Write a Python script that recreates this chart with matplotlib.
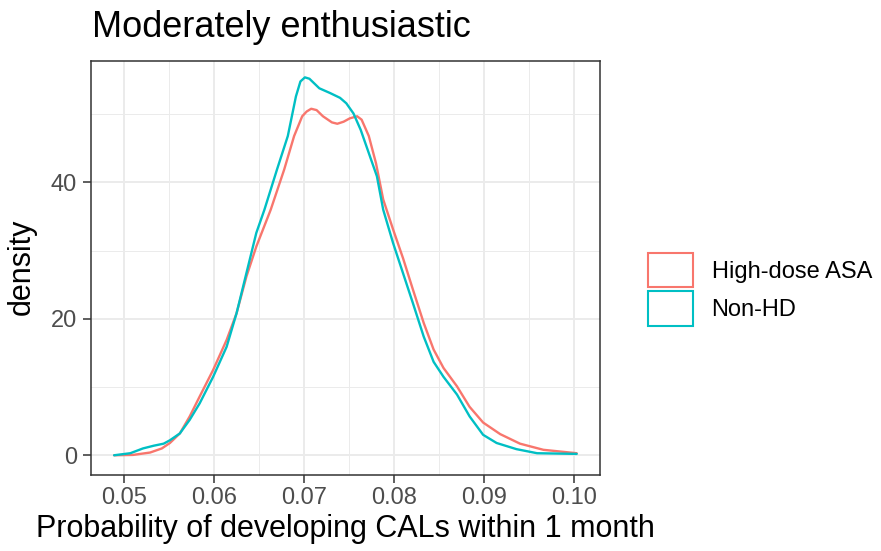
import matplotlib
matplotlib.use("Agg")
import matplotlib.pyplot as plt
from matplotlib.patches import Patch
from matplotlib.ticker import MultipleLocator

plt.rcParams["font.family"] = ["Liberation Sans", "DejaVu Sans"]

# density curves
hd_x = [0.0489, 0.0510, 0.0529, 0.0542, 0.0551, 0.0562, 0.0573, 0.0584, 0.0599, 0.0614,
        0.0625, 0.0636, 0.0647, 0.0663, 0.0678, 0.0689, 0.0698, 0.0703, 0.0708, 0.0714,
        0.0721, 0.0731, 0.0737, 0.0744, 0.0751, 0.0759, 0.0764, 0.0772, 0.0780, 0.0788,
        0.0799, 0.0810, 0.0821, 0.0833, 0.0844, 0.0855, 0.0870, 0.0884, 0.0899, 0.0918,
        0.0940, 0.0966, 0.1003]
hd_y = [0.0, 0.05, 0.4, 1.0, 1.8, 3.2, 5.7, 8.6, 12.5, 16.9,
        20.8, 26.2, 30.6, 36.0, 41.9, 46.8, 49.7, 50.4, 50.8, 50.6,
        49.7, 48.8, 48.6, 48.9, 49.4, 49.7, 49.2, 46.8, 42.8, 37.5,
        33.1, 28.9, 24.3, 19.4, 15.5, 12.8, 10.1, 7.1, 4.8, 3.1,
        1.7, 0.8, 0.3]

non_x = [0.0489, 0.0507, 0.0521, 0.0533, 0.0544, 0.0551, 0.0562, 0.0573, 0.0584, 0.0599,
         0.0614, 0.0625, 0.0636, 0.0647, 0.0656, 0.0670, 0.0682, 0.0691, 0.0696, 0.0701,
         0.0706, 0.0717, 0.0729, 0.0740, 0.0747, 0.0755, 0.0763, 0.0772, 0.0781, 0.0788,
         0.0799, 0.0810, 0.0821, 0.0833, 0.0844, 0.0855, 0.0870, 0.0884, 0.0899, 0.0914,
         0.0936, 0.0959, 0.1003]
non_y = [0.0, 0.3, 1.0, 1.4, 1.7, 2.2, 3.2, 5.2, 7.6, 11.5,
         15.9, 20.8, 26.7, 32.6, 36.0, 41.9, 46.8, 52.6, 54.8, 55.4,
         55.2, 53.8, 53.1, 52.4, 51.6, 50.1, 47.7, 44.3, 40.9, 36.0,
         31.1, 26.7, 22.3, 17.4, 13.7, 11.5, 8.9, 5.7, 3.0, 1.8,
         0.9, 0.3, 0.2]

groups = ["High-dose ASA", "Non-HD"]
colors = ["#F8766D", "#00BFC4"]

x_ticks = [0.05, 0.06, 0.07, 0.08, 0.09, 0.10]
x_labels = ["0.05", "0.06", "0.07", "0.08", "0.09", "0.10"]
y_ticks = [0, 20, 40]

W, H = 881, 551
fig = plt.figure(figsize=(W / 100, H / 100), dpi=100)
ax = fig.add_axes([91 / W, 1 - 474.5 / H, 509 / W, 413.5 / H])

for xs, ys, c in zip([hd_x, non_x], [hd_y, non_y], colors):
    ax.plot(xs, ys, color=c, lw=1.7, solid_joinstyle="round",
            solid_capstyle="round", zorder=3)

ax.set_xlim(0.04633, 0.10289)
ax.set_ylim(-2.82, 57.8)
ax.set_xticks(x_ticks)
ax.set_xticklabels(x_labels)
ax.set_yticks(y_ticks)
ax.xaxis.set_minor_locator(MultipleLocator(0.005))
ax.yaxis.set_minor_locator(MultipleLocator(10))

ax.grid(which="major", color="#EBEBEB", lw=1.4, zorder=0)
ax.grid(which="minor", color="#EBEBEB", lw=0.7, zorder=0)
ax.set_axisbelow(True)
for s in ax.spines.values():
    s.set_color("#333333")
    s.set_linewidth(1.1)
ax.tick_params(which="major", length=5.6, width=1.1, color="#333333",
               labelsize=17, labelcolor="#4D4D4D")
ax.tick_params(axis="x", pad=3.3)
ax.tick_params(axis="y", pad=4.5)
ax.tick_params(which="minor", length=0)

fig.text(345.5 / W, 1 - 537 / H, "Probability of developing CALs within 1 month",
         fontsize=22, ha="center", va="baseline")
fig.text(30 / W, 1 - 267 / H, "density", fontsize=22, rotation=90,
         ha="center", va="baseline", rotation_mode="anchor")
fig.text(91.5 / W, 1 - 37.3 / H, "Moderately enthusiastic", fontsize=26,
         ha="left", va="baseline")

handles = [Patch(facecolor="white", edgecolor=c, lw=1.5) for c in colors]
fig.legend(handles, groups, loc="center left", bbox_to_anchor=(648 / W, 1 - 289.4 / H),
           frameon=False, fontsize=17, handlelength=1.9, handleheight=1.86,
           handletextpad=0.79, labelspacing=0.17, borderpad=0, borderaxespad=0)

fig.savefig("out.png", dpi=100)
